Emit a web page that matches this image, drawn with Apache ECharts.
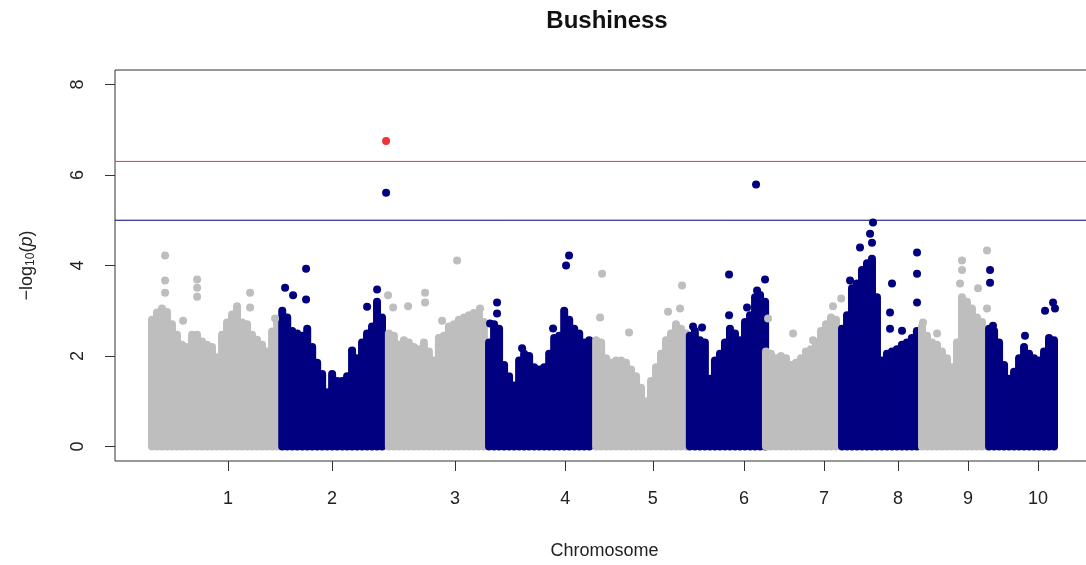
<!DOCTYPE html>
<html>
<head>
<meta charset="utf-8">
<script src="https://cdn.jsdelivr.net/npm/echarts@6/dist/echarts.min.js"></script>
<style>
  html, body { margin: 0; padding: 0; background: #ffffff; }
  #chart { width: 1086px; height: 565px; }
</style>
</head>
<body>
<div id="chart"></div>
<script>
// Manhattan plot of GWAS results for bushiness (cumulative genome position in Mb).
const chromosomes = ['1', '2', '3', '4', '5', '6', '7', '8', '9', '10'];
const chrTickPos = [186, 428, 714, 970, 1174, 1386, 1572, 1744, 1907, 2070];
// first and last sampled SNP position of each chromosome (cumulative Mb)
const chrSpan = [[9, 300], [312, 544], [560, 781], [793, 1026], [1042, 1251],
                 [1260, 1435], [1437, 1600], [1614, 1788], [1800, 1951], [1956, 2107]];

// upper edge of the dense SNP cloud (-log10 p), evenly spaced along each chromosome
const chr1Top = [2.8, 2.96, 3.05, 2.97, 2.7, 2.47, 2.25, 2.2, 2.47, 2.47, 2.32, 2.25, 2.2,
                 1.97, 2.47, 2.74, 2.92, 3.1, 2.74, 2.7, 2.47, 2.36, 2.25, 2.1, 2.54, 2.74];
const chr2Top = [3.0, 2.85, 2.55, 2.5, 2.45, 2.6, 2.2, 1.85, 1.6, 1.2, 1.6, 1.45, 1.45, 1.55,
                 2.1, 1.95, 2.3, 2.5, 2.65, 3.2, 2.85];
const chr3Top = [2.5, 2.45, 2.25, 2.35, 2.3, 2.2, 2.15, 2.3, 2.1, 1.9, 2.4, 2.45, 2.65, 2.7,
                 2.8, 2.85, 2.9, 2.95, 2.95, 2.75];
const chr4Top = [2.3, 2.7, 2.6, 1.8, 1.55, 1.35, 1.9, 2.05, 2.0, 1.75, 1.7, 1.75, 2.05, 2.4,
                 2.45, 3.0, 2.8, 2.6, 2.5, 2.3, 2.35];
const chr5Top = [2.35, 2.3, 1.95, 1.85, 1.9, 1.9, 1.85, 1.7, 1.55, 1.3, 1.0, 1.45, 1.75, 2.05,
                 2.35, 2.5, 2.7, 2.6, 2.5];
const chr6Top = [2.45, 2.55, 2.35, 2.3, 1.5, 1.9, 2.05, 2.3, 2.6, 2.5, 2.35, 2.75, 2.9, 3.3,
                 3.35, 3.2];
const chr7Top = [2.1, 2.05, 1.95, 2.0, 1.95, 1.8, 1.85, 1.95, 2.1, 2.15, 2.3, 2.55, 2.7, 2.85, 2.8];
const chr8Top = [2.6, 2.9, 3.5, 3.6, 3.9, 4.05, 4.15, 3.3, 1.9, 2.05, 2.1, 2.15, 2.25, 2.3, 2.4, 2.55];
const chr9Top = [2.65, 2.45, 2.3, 2.25, 2.1, 1.95, 1.75, 2.3, 3.3, 3.2, 3.05, 2.85, 2.75, 2.5];
const chr10Top = [2.6, 2.55, 2.3, 1.8, 1.5, 1.65, 1.95, 2.2, 2.05, 1.95, 1.9, 2.1, 2.4, 2.35];

// individual SNPs standing out above the cloud: [position Mb, -log10 p, chromosome index]
const peakSnps = [
  [39.5, 4.22, 0], [39.5, 3.67, 0], [39.5, 3.40, 0], [81.4, 2.78, 0], [114, 3.69, 0],
  [114, 3.51, 0], [114, 3.31, 0], [237.2, 3.40, 0], [237.2, 3.07, 0], [295.3, 2.83, 0],
  [318.6, 3.51, 1], [337.2, 3.34, 1], [367.4, 3.93, 1], [367.4, 3.25, 1], [474.4, 2.12, 1],
  [509.3, 3.09, 1], [532.6, 3.47, 1], [553.5, 6.75, 1], [553.5, 5.61, 1],
  [558.1, 3.34, 2], [569.8, 3.07, 2], [604.7, 3.10, 2], [644.2, 3.40, 2], [644.2, 3.18, 2],
  [683.7, 2.78, 2], [718.6, 4.11, 2], [772.1, 3.05, 2],
  [795.3, 2.72, 3], [811.6, 3.18, 3], [811.6, 2.94, 3], [869.8, 2.17, 3], [941.9, 2.61, 3],
  [972.1, 4.00, 3], [979.1, 4.22, 3],
  [1051.2, 2.85, 4], [1055.8, 3.82, 4], [1118.6, 2.52, 4], [1209.3, 2.98, 4], [1237.2, 3.05, 4],
  [1241.9, 3.56, 4],
  [1267.4, 2.65, 5], [1288.4, 2.63, 5], [1351.2, 3.80, 5], [1351.2, 2.90, 5], [1393, 3.07, 5],
  [1414, 5.79, 5], [1416.3, 3.45, 5], [1434.9, 3.69, 5],
  [1441.9, 2.83, 6], [1500, 2.50, 6], [1546.5, 2.35, 6], [1593, 3.10, 6], [1612, 3.27, 6],
  [1632.6, 3.67, 7], [1655.8, 4.40, 7], [1679.1, 4.70, 7], [1683.7, 4.50, 7], [1686, 4.95, 7],
  [1725.6, 2.96, 7], [1725.6, 2.60, 7], [1730.2, 3.60, 7], [1753.5, 2.56, 7], [1788.4, 4.29, 7],
  [1788.4, 3.82, 7], [1788.4, 3.18, 7],
  [1802.3, 2.74, 8], [1834.9, 2.50, 8], [1888.4, 3.60, 8], [1893, 3.90, 8], [1893, 4.11, 8],
  [1930.2, 3.50, 8], [1951.2, 3.05, 8], [1951.2, 4.33, 8],
  [1958.2, 3.90, 9], [1958.2, 3.62, 9], [1965.1, 2.67, 9], [2039.5, 2.45, 9], [2086.1, 3.00, 9],
  [2104.7, 3.18, 9], [2109.3, 3.05, 9]
];

const suggestiveLine = 5.0;
const genomewideLine = 6.3;
const xRange = [-77, 2200];
const yRange = [-0.32, 8.32];
const yTicks = [0, 2, 4, 6, 8];

const GREY = '#bebebe';
const NAVY = '#000080';
const HIT = '#f03434';
const FONT = '"Liberation Sans", Arial, sans-serif';

const chrTops = [chr1Top, chr2Top, chr3Top, chr4Top, chr5Top, chr6Top, chr7Top, chr8Top, chr9Top, chr10Top];
const chrColor = i => (i % 2 === 0 ? GREY : NAVY);

// place each cloud sample along its chromosome
const cloudData = [];
chrTops.forEach((tops, ci) => {
  const [a, b] = chrSpan[ci];
  const step = (b - a) / (tops.length - 1);
  tops.forEach((v, i) => cloudData.push([a + i * step, v, ci]));
});

const peakData = peakSnps.map(([pos, v, ci]) => ({
  value: [pos, v],
  itemStyle: { color: v > genomewideLine ? HIT : chrColor(ci), opacity: 1 }
}));

// horizontal significance threshold as a two-point line across the whole axis
const threshold = (name, v, color) => ({
  type: 'line',
  name,
  data: [[xRange[0], v], [xRange[1], v]],
  symbol: 'none',
  silent: true,
  z: 1,
  lineStyle: { color, width: 1, type: 'solid' }
});

const chart = echarts.init(document.getElementById('chart'), null, { renderer: 'canvas' });

chart.setOption({
  animation: false,
  backgroundColor: '#ffffff',
  title: {
    text: 'Bushiness',
    left: 602,
    top: 4,
    textAlign: 'center',
    textStyle: { fontSize: 24, fontWeight: 'bold', color: '#111', fontFamily: FONT }
  },
  grid: {
    left: 115, right: -8, top: 70, bottom: 104,
    outerBoundsMode: 'none',
    containLabel: false,
    show: true, borderColor: '#333', borderWidth: 1, backgroundColor: 'transparent'
  },
  xAxis: {
    type: 'value',
    min: xRange[0], max: xRange[1],
    name: 'Chromosome',
    nameLocation: 'middle',
    nameGap: 81,
    nameTextStyle: { fontSize: 18, color: '#222', fontFamily: FONT },
    axisLine: { show: false, onZero: false },
    splitLine: { show: false },
    axisTick: { show: true, length: 10, customValues: chrTickPos, lineStyle: { color: '#333' } },
    axisLabel: {
      customValues: chrTickPos,
      margin: 29,
      fontSize: 18,
      color: '#222',
      fontFamily: FONT,
      formatter: v => chromosomes[chrTickPos.indexOf(v)]
    }
  },
  yAxis: {
    type: 'value',
    min: yRange[0], max: yRange[1],
    name: '{a|−log}{s|10}{a|(}{i|p}{a|)}',
    nameLocation: 'middle',
    nameRotate: 90,
    nameGap: 78,
    nameTextStyle: {
      color: '#222',
      fontFamily: FONT,
      rich: {
        a: { fontSize: 18, color: '#222', fontFamily: FONT },
        s: { fontSize: 12, color: '#222', fontFamily: FONT, padding: [8, 0, 0, 0] },
        i: { fontSize: 18, color: '#222', fontFamily: FONT, fontStyle: 'italic' }
      }
    },
    axisLine: { show: false, onZero: false },
    splitLine: { show: false },
    axisTick: { show: true, length: 10, customValues: yTicks, lineStyle: { color: '#333' } },
    axisLabel: {
      customValues: yTicks,
      rotate: 90,
      margin: 28,
      fontSize: 18,
      color: '#222',
      fontFamily: FONT
    }
  },
  series: [
    threshold('genome-wide', genomewideLine, '#e03c3c'),
    threshold('suggestive', suggestiveLine, '#000080'),
    {
      // dense SNP cloud: columns of overlapping dots from 0 up to the cloud edge
      type: 'custom',
      name: 'cloud',
      data: cloudData,
      encode: { x: 0, y: 1 },
      silent: true,
      z: 2,
      renderItem: (params, api) => {
        const top = api.coord([api.value(0), api.value(1)]);
        const base = api.coord([api.value(0), 0]);
        return {
          type: 'rect',
          shape: { x: top[0] - 4, y: top[1] - 4, width: 8, height: base[1] - top[1] + 8, r: 4 },
          style: { fill: chrColor(api.value(2)) }
        };
      }
    },
    {
      type: 'scatter',
      name: 'peaks',
      data: peakData,
      symbol: 'circle',
      symbolSize: 8,
      silent: true,
      z: 3
    }
  ]
});
</script>
</body>
</html>
